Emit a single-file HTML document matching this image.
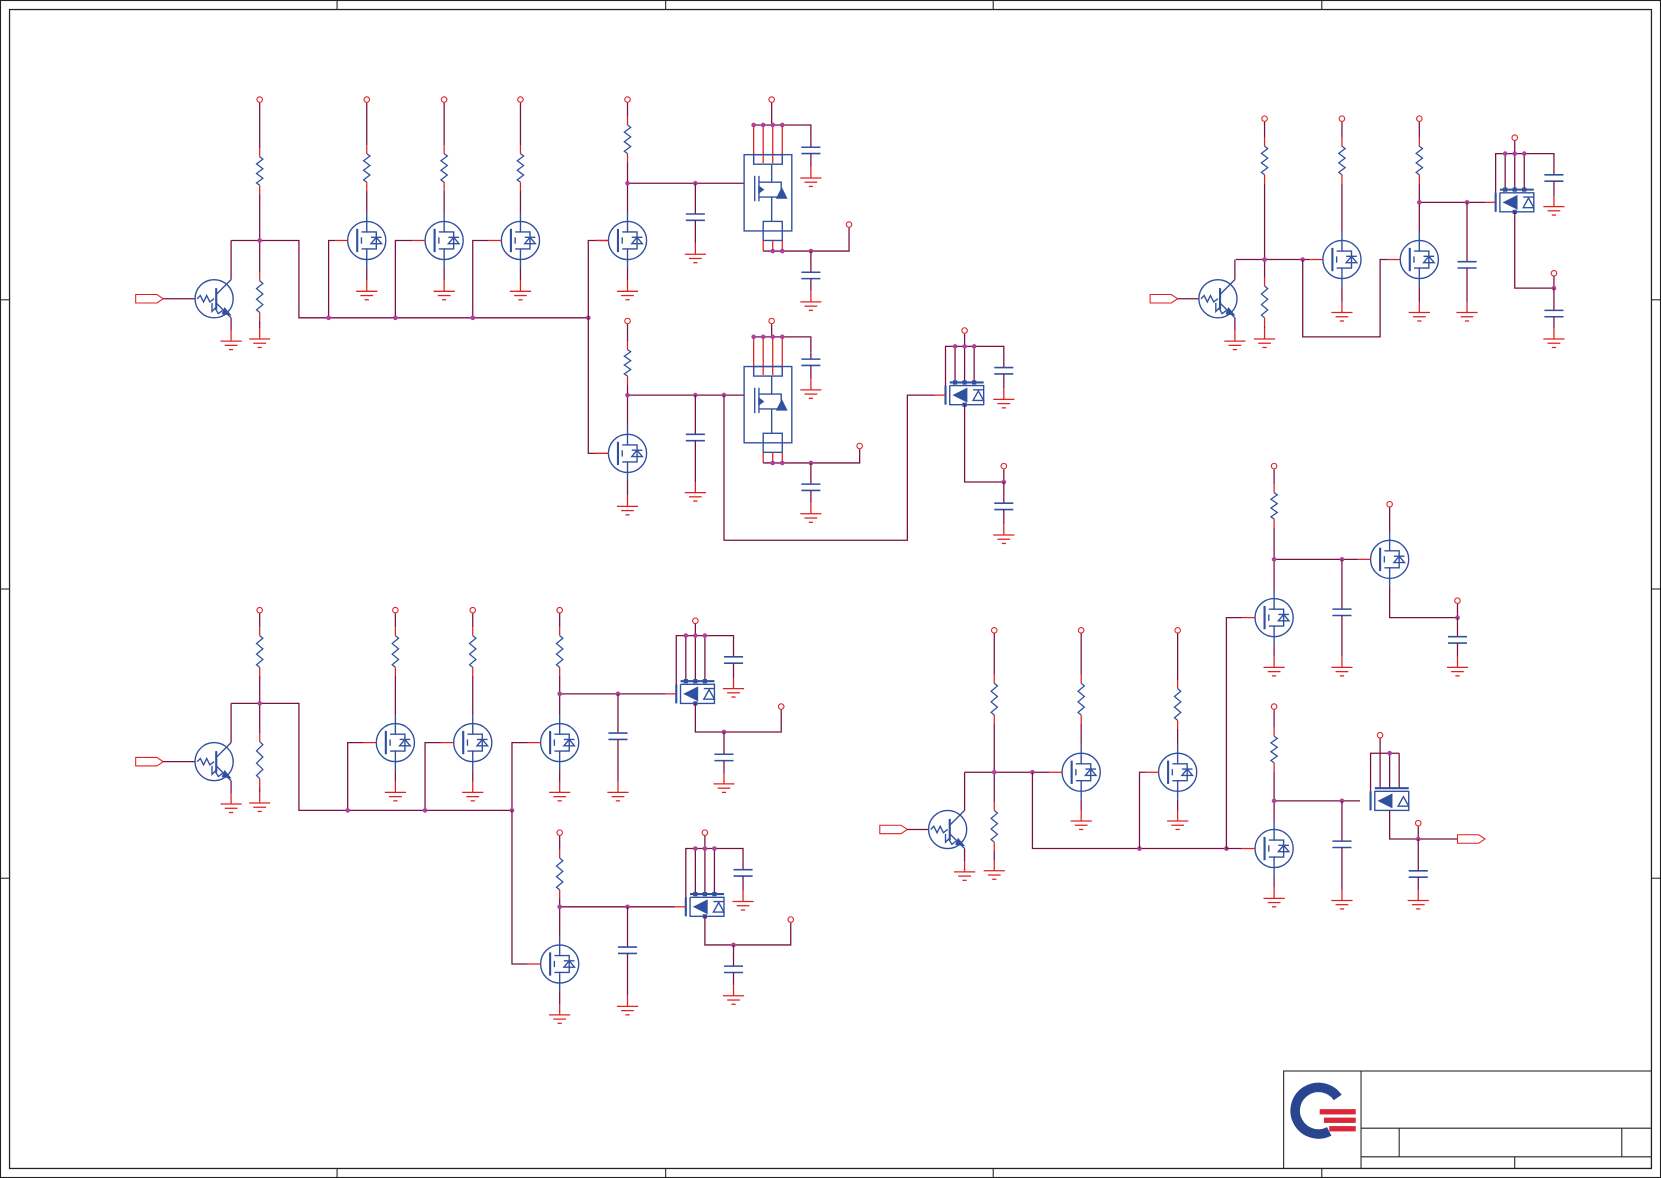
<!DOCTYPE html>
<html><head><meta charset="utf-8"><style>html,body{margin:0;padding:0;background:#fff}svg{display:block}</style></head>
<body>
<svg id="s" width="1661" height="1178" viewBox="0 0 1567 1112" preserveAspectRatio="none" xmlns="http://www.w3.org/2000/svg">
<rect x="0.5" y="0.5" width="1566" height="1111" fill="#fff" stroke="#222" stroke-width="1"/>
<rect x="9" y="9" width="1549" height="1094" fill="none" stroke="#222" stroke-width="1.2"/>
<g stroke="#222" stroke-width="1">
<line x1="318" y1="0" x2="318" y2="9"/><line x1="628" y1="0" x2="628" y2="9"/><line x1="937" y1="0" x2="937" y2="9"/><line x1="1247" y1="0" x2="1247" y2="9"/>
<line x1="318" y1="1103" x2="318" y2="1112"/><line x1="628" y1="1103" x2="628" y2="1112"/><line x1="937" y1="1103" x2="937" y2="1112"/><line x1="1247" y1="1103" x2="1247" y2="1112"/>
<line x1="0" y1="283" x2="9" y2="283"/><line x1="0" y1="829" x2="9" y2="829"/><line x1="1558" y1="283" x2="1567" y2="283"/><line x1="1558" y1="829" x2="1567" y2="829"/>
<line x1="0" y1="556" x2="9" y2="556"/><line x1="1558" y1="556" x2="1567" y2="556"/>
<rect x="1211" y="1011" width="347" height="92" fill="none"/>
<line x1="1284" y1="1011" x2="1284" y2="1103"/>
<line x1="1284" y1="1065" x2="1558" y2="1065"/><line x1="1284" y1="1092" x2="1558" y2="1092"/>
<line x1="1320" y1="1065" x2="1320" y2="1092"/><line x1="1530" y1="1065" x2="1530" y2="1092"/><line x1="1429" y1="1092" x2="1429" y2="1103"/>
</g>
<path d="M1262,1036 A22,22 0 1 0 1254,1068" fill="none" stroke="#2a4590" stroke-width="9"/>
<g fill="#d8283a"><rect x="1245" y="1047" width="34" height="5"/><rect x="1249" y="1055" width="30" height="5"/><rect x="1254" y="1063" width="25" height="5"/></g>
<g id="g"></g>
</svg>
<script>
var G=document.getElementById('g'),h='';
var M='#7a1040',R='#e02020',B='#3050a0',D='#b040a0';
function L(a,c){h+='<polyline points="'+a.join(' ')+'" fill="none" stroke="'+(c||M)+'" stroke-width="1.2"/>';}
function dot(x,y){h+='<circle cx="'+x+'" cy="'+y+'" r="2.2" fill="'+D+'"/>';}
function vcc(x,y){h+='<circle cx="'+x+'" cy="'+y+'" r="2.6" fill="#fff" stroke="'+R+'" stroke-width="1"/>';}
function gnd(x,y){L([x,y-10,x,y],R);h+='<g stroke="'+R+'" stroke-width="1.2"><line x1="'+(x-10)+'" y1="'+y+'" x2="'+(x+10)+'" y2="'+y+'"/><line x1="'+(x-6)+'" y1="'+(y+4)+'" x2="'+(x+6)+'" y2="'+(y+4)+'"/><line x1="'+(x-2)+'" y1="'+(y+8)+'" x2="'+(x+2)+'" y2="'+(y+8)+'"/></g>';}
function res(x,y1,y2){var p=[x,y1],n=6,d=(y2-y1)/n;for(var i=0;i<n;i++)p.push((x+(i%2?-3:3))+','+(y1+d*(i+0.5)));p.push(x+','+y2);
 h+='<polyline points="'+x+','+y1+' '+p.slice(2).join(' ')+'" fill="none" stroke="'+B+'" stroke-width="1.2"/>';}
function vres(x,yt,y1,y2,yb){L([x+','+yt,x+','+(y1-8)]);L([x+','+(y1-8),x+','+y1],R);res(x,y1,y2);L([x+','+y2,x+','+(y2+8)],R);L([x+','+(y2+8),x+','+yb]);}
function cap(x,y,yt,yb){L([x+','+yt,x+','+(y-3)]);h+='<g stroke="'+B+'" stroke-width="1.5"><line x1="'+(x-9)+'" y1="'+(y-3)+'" x2="'+(x+9)+'" y2="'+(y-3)+'"/><line x1="'+(x-9)+'" y1="'+(y+3)+'" x2="'+(x+9)+'" y2="'+(y+3)+'"/></g>';L([x+','+(y+3),x+','+(yb-10)]);gnd(x,yb);}
function nmos(cx,cy,gx,gy){h+='<g stroke="'+B+'" stroke-width="1.3" fill="none"><circle cx="'+cx+'" cy="'+cy+'" r="18"/><line x1="'+(cx-9)+'" y1="'+(cy-11)+'" x2="'+(cx-9)+'" y2="'+(cy+11)+'" stroke-width="2"/><polyline points="'+(cx-5)+','+(cy-8)+' '+cx+','+(cy-8)+' '+cx+','+(cy-26)+'"/><polyline points="'+(cx-5)+','+(cy+8)+' '+cx+','+(cy+8)+' '+cx+','+(cy+26)+'"/><polyline points="'+cx+','+(cy-8)+' '+(cx+9)+','+(cy-8)+' '+(cx+9)+','+(cy+8)+' '+cx+','+(cy+8)+'"/><line x1="'+(cx-5)+'" y1="'+(cy-3)+'" x2="'+(cx-5)+'" y2="'+(cy+3)+'"/><path d="M'+(cx+4)+','+(cy+3)+' L'+(cx+14)+','+(cy+3)+' L'+(cx+9)+','+(cy-3)+' Z M'+(cx+4)+','+(cy-3)+' L'+(cx+14)+','+(cy-3)+'"/></g>';
 L([(cx-30)+','+cy,(cx-18)+','+cy],R);}
function npn(cx,cy){h+='<g stroke="'+B+'" stroke-width="1.3" fill="none"><circle cx="'+cx+'" cy="'+cy+'" r="18"/><line x1="'+(cx+2)+'" y1="'+(cy-10)+'" x2="'+(cx+2)+'" y2="'+(cy+10)+'" stroke-width="2"/><line x1="'+(cx+2)+'" y1="'+(cy-4)+'" x2="'+(cx+16)+'" y2="'+(cy-18)+'"/><line x1="'+(cx+2)+'" y1="'+(cy+4)+'" x2="'+(cx+16)+'" y2="'+(cy+18)+'"/><polyline points="'+(cx-16)+','+cy+' '+(cx-13)+','+(cy-3)+' '+(cx-10)+','+(cy+3)+' '+(cx-7)+','+(cy-3)+' '+(cx-4)+','+(cy+3)+' '+cx+','+cy+'"/><polyline points="'+(cx-2)+','+(cy+4)+' '+(cx-2)+','+(cy+12)+' '+(cx+1)+','+(cy+9)+' '+(cx+4)+','+(cy+14)+' '+(cx+8)+','+(cy+11)+'"/><path d="M'+(cx+10)+','+(cy+9)+' L'+(cx+15)+','+(cy+15)+' L'+(cx+8)+','+(cy+14)+'Z" fill="'+B+'"/></g>';}
function port(x,y,out){h+='<path d="M'+x+','+(y-4)+' L'+(x+20)+','+(y-4)+' L'+(x+26)+','+y+' L'+(x+20)+','+(y+4)+' L'+x+','+(y+4)+' Z" fill="none" stroke="'+R+'" stroke-width="1"/>';}
function bjt(px,py,cx,cy,ctop){port(px,py);L([(px+26)+','+py,(cx-18)+','+py]);npn(cx,cy);L([(cx+16)+','+(cy-18),(cx+16)+','+ctop]);gnd(cx+16,cy+40);L([(cx+16)+','+(cy+18),(cx+16)+','+(cy+30)]);}
// box-type pmos
function boxp(x,yt,yb,vy,capx,cy1,vx2,cy2){var y0=yt-28;vcc(728,vy);L(['728,'+(vy+3),'728,'+y0]);
 L([711+','+y0,capx+','+y0,capx+','+(y0+15)]);cap(capx,y0+24,y0+15,y0+50);
 [711,720,729,738].forEach(function(px){L([px+','+y0,px+','+(yt+8)],R);dot(px,y0)});
 h+='<g stroke="'+B+'" stroke-width="1.3" fill="none"><rect x="702" y="'+yt+'" width="45" height="'+(yb-yt)+'"/><rect x="711" y="'+yt+'" width="27" height="9"/><rect x="720" y="'+(yb-9)+'" width="18" height="18"/><line x1="712" y1="'+(yt+20)+'" x2="712" y2="'+(yt+44)+'"/><line x1="716" y1="'+(yt+20)+'" x2="716" y2="'+(yt+44)+'"/><polyline points="716,'+(yt+26)+' 737,'+(yt+26)+' 737,'+(yt+40)+' 716,'+(yt+40)+'"/><line x1="728" y1="'+(yt+9)+'" x2="728" y2="'+(yt+26)+'"/><line x1="728" y1="'+(yt+40)+'" x2="728" y2="'+(yb-9)+'"/><path d="M733,'+(yt+41)+' L742,'+(yt+41)+' L737.5,'+(yt+32)+'Z" fill="'+B+'"/><path d="M720,'+(yt+33)+' L716,'+(yt+30)+' L716,'+(yt+36)+'Z" fill="'+B+'"/></g>';
 var yw=yb+19;[720,729,738].forEach(function(px){L([px+','+(yb+9),px+','+yw],R)});L(['720,'+yw,vx2+','+yw,vx2+','+(cy2+3)]);vcc(vx2,cy2);dot(729,yw);dot(738,yw);dot(765,yw);
 cap(765,yw+23,yw,yw+48);}
// small pmos: gate at gx, center cy, x from left l (box l..l+36)
function sp(l,cy,top,vy,capx){var px=[l+9,l+18,l+27];vcc(l+18,vy);L([(l+18)+','+(vy+3),(l+18)+','+top]);L([l+','+(cy+8),l+','+top,capx+','+top,capx+','+(top+14)]);
 px.forEach(function(p){L([p+','+top,p+','+(cy-12)]);dot(p,top)});cap(capx,top+23,top+14,top+50);
 h+='<g stroke="'+B+'" stroke-width="1.3" fill="none"><line x1="'+l+'" y1="'+(cy-9)+'" x2="'+l+'" y2="'+(cy+9)+'" stroke-width="2"/><polyline points="'+(l+4)+','+(cy-12)+' '+(l+36)+','+(cy-12)+'" stroke-width="2"/><polyline points="'+(l+4)+','+(cy-9)+' '+(l+4)+','+(cy+9)+' '+(l+36)+','+(cy+9)+' '+(l+36)+','+(cy-9)+' '+(l+4)+','+(cy-9)+'"/><path d="M'+(l+8)+','+cy+' L'+(l+20)+','+(cy-6)+' L'+(l+20)+','+(cy+6)+'Z" fill="'+B+'"/><path d="M'+(l+26)+','+(cy+5)+' L'+(l+36)+','+(cy+5)+' L'+(l+31)+','+(cy-4)+'Z M'+(l+26)+','+(cy-5)+' L'+(l+36)+','+(cy-5)+'"/></g>';
 h+='<g fill="'+B+'">';px.forEach(function(p){h+='<rect x="'+(p-2)+'" y="'+(cy-14)+'" width="4" height="4"/>'});h+='<rect x="'+(l+16)+'" y="'+(cy+7)+'" width="4" height="4"/></g>';
 L([(l-10)+','+cy,l+','+cy],R);}
function nm(x,cy,vy,r1,r2,gy){vcc(x,vy);vres(x,vy+3,r1,r2,cy-26);nmos(x,cy);L([x+','+(cy+26),x+','+(gy-10)]);gnd(x,gy);}

// ===== Block 1
bjt(128,282,202,282,227);
vcc(245,94);vres(245,97,148,175,227);vres(245,227,265,295,310);gnd(245,320);
L(['218,227','282,227','282,300','555,300']);dot(245,227);
[[346,310],[419,373],[491,446]].forEach(function(a){nm(a[0],227,94,145,172,275);L([a[1]+',300',a[1]+',227',(a[0]-30)+',227']);dot(a[1],300)});
dot(555,300);L(['574,227','555,227','555,428','574,428']);
nm(592,227,94,118,145,275);L(['592,173','702,173']);dot(592,173);dot(656,173);cap(656,205,173,240);
nm(592,428,303,330,355,478);L(['592,373','702,373']);dot(592,373);dot(656,373);dot(683,373);cap(656,413,373,465);
boxp(702,146,218,94,765,0,801,212);
boxp(702,346,418,303,765,0,811,421);
L(['683,373','683,510','856,510','856,373','882,373']);
sp(892,373,327,312,947);L(['910,382','910,455','947,455','947,443']);vcc(947,440);dot(947,455);cap(947,478,455,505);

// ===== Block 2
bjt(1085,282,1149,282,245);
vcc(1193,112);vres(1193,115,138,165,245);vres(1193,245,270,300,310);gnd(1193,320);
L(['1166,245','1236,245']);dot(1193,245);dot(1229,245);
nm(1266,245,112,138,165,295);
L(['1229,245','1229,318','1302,318','1302,245','1309,245']);
nm(1339,245,112,138,165,295);L(['1339,191','1401,191']);dot(1339,191);dot(1384,191);cap(1384,250,191,295);
sp(1411,191,145,130,1466);L(['1429,200','1429,272','1466,272','1466,261']);vcc(1466,258);dot(1466,272);cap(1466,296,272,320);

// ===== Block 3
bjt(128,719,202,719,664);
vcc(245,576);vres(245,579,600,630,664);vres(245,664,700,735,748);gnd(245,758);
L(['218,664','282,664','282,765','483,765']);dot(245,664);
[[373,328],[446,401],[528,483]].forEach(function(a){nm(a[0],701,576,600,630,748);L([a[1]+',765',a[1]+',701',(a[0]-30)+',701']);dot(a[1],765)});
L(['483,765','483,910','498,910']);
L(['528,655','628,655']);dot(528,655);dot(583,655);cap(583,695,655,748);
sp(638,655,600,586,692);L(['656,664','656,691','737,691','737,670']);vcc(737,667);dot(683,691);cap(683,715,691,740);
nm(528,910,786,810,840,958);L(['528,856','637,856']);dot(528,856);dot(592,856);cap(592,897,856,950);
sp(647,856,801,786,701);L(['665,865','665,892','746,892','746,871']);vcc(746,868);dot(692,892);cap(692,915,892,940);

// ===== Block 4
bjt(830,783,894,783,729);
vcc(938,595);vres(938,598,645,675,729);vres(938,729,765,795,812);gnd(938,822);
L(['910,729','990,729']);dot(938,729);dot(974,729);
nm(1020,729,595,645,675,775);
L(['974,729','974,801','1157,801']);dot(1075,801);dot(1157,801);
L(['1075,801','1075,729','1081,729']);nm(1111,729,595,650,680,775);
L(['1157,801','1157,583','1172,583']);L(['1157,801','1172,801']);
nm(1202,583,440,465,490,630);L(['1202,528','1281,528']);dot(1202,528);dot(1266,528);cap(1266,578,528,630);
vcc(1311,476);L(['1311,479','1311,502']);nmos(1311,528);L(['1311,554','1311,583','1375,583','1375,570']);vcc(1375,567);dot(1375,583);cap(1375,604,583,630);
nm(1202,801,667,695,720,848);L(['1202,756','1283,756']);dot(1202,756);dot(1266,756);cap(1266,797,756,850);
(function(){var l=1293,cy=756;vcc(1302,694);L(['1302,697','1302,711']);L([l+','+(cy+8),l+',711','1320,711']);[1302,1311,1320].forEach(function(p){L([p+',711',p+','+(cy-12)]);});dot(1311,711);
 h+='<g stroke="'+B+'" stroke-width="1.3" fill="none"><line x1="'+l+'" y1="'+(cy-9)+'" x2="'+l+'" y2="'+(cy+9)+'" stroke-width="2"/><line x1="'+(l+4)+'" y1="'+(cy-12)+'" x2="'+(l+36)+'" y2="'+(cy-12)+'" stroke-width="2"/><rect x="'+(l+4)+'" y="'+(cy-9)+'" width="32" height="18"/><path d="M'+(l+8)+','+cy+' L'+(l+20)+','+(cy-6)+' L'+(l+20)+','+(cy+6)+'Z" fill="'+B+'"/><path d="M'+(l+26)+','+(cy+5)+' L'+(l+36)+','+(cy+5)+' L'+(l+31)+','+(cy-4)+'Z"/></g>';})();
L(['1311,765','1311,792','1375,792']);port(1375,792);vcc(1338,777);L(['1338,780','1338,792']);dot(1338,792);cap(1338,825,792,850);
G.innerHTML=h;
</script>
</body></html>
